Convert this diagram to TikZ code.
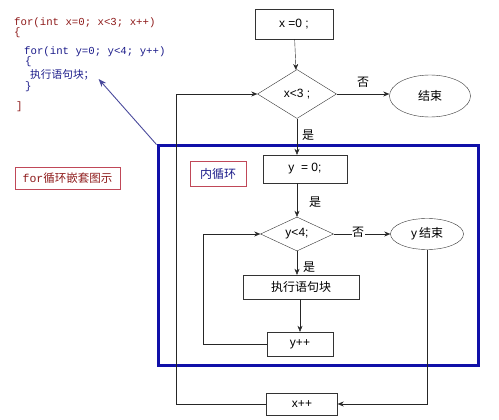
\documentclass[tikz,border=0pt]{standalone}
\usepackage{fontspec}
\setmainfont{Liberation Sans}
\setmonofont{Liberation Mono}
\newfontfamily\cjk{Noto Sans CJK SC}
\usetikzlibrary{arrows.meta,shapes.geometric}
\definecolor{codered}{HTML}{8E1B1B}
\definecolor{codeblue}{HTML}{1C1C8A}
\definecolor{framecol}{HTML}{1010A8}
\definecolor{tagred}{HTML}{C04858}
\definecolor{pointercol}{HTML}{4A4A9C}

\begin{document}
\begin{tikzpicture}[x=1pt,y=-1pt,
  every node/.style={font=\fontsize{12}{14}\selectfont},
  box/.style={draw=black!80,thin,minimum width=#1,inner sep=0pt},
  decision/.style={diamond,draw=black!80,thin,inner sep=0pt},
  terminal/.style={ellipse,draw=black!80,thin,inner sep=0pt},
  code/.style={anchor=west,inner sep=0pt,font=\ttfamily\fontsize{10.7}{12}\selectfont},
  flow/.style={black!85,thin,-{Stealth[length=6pt,width=5pt]}},
  link/.style={black!85,thin}]
  \useasboundingbox (0,0) rectangle (499,420);

  \node[code,text=codered] (code1) at (14,23) {for(int x=0; x<3; x++)};
  \node[code,text=codered] (code2) at (14,33) {\{};
  \node[code,text=codeblue] (code3) at (24,52) {for(int y=0; y<4; y++)};
  \node[code,text=codeblue] (code4) at (25,62) {\{};
  \node[code,text=codeblue] (code5) at (30,75) {\cjk 执行语句块；};
  \node[code,text=codeblue] (code6) at (25,87) {\}};
  \node[code,text=codered] (code7) at (16,107) {]};

  \node[draw=tagred,thin,minimum width=105pt,minimum height=22pt,text=codered,
    font=\fontsize{11.5}{13}\selectfont] (caption) at (67.5,178)
    {{\ttfamily for}{\cjk 循环嵌套图示}};

  \node[draw=framecol,line width=3pt,minimum width=320pt,minimum height=219pt,inner sep=0pt] (frame) at (318,255.5) {};
  \node[draw=tagred,thin,minimum width=56pt,minimum height=25pt,text=codeblue] (inner) at (218,173.5) {\cjk 内循环};

  \node[box=78pt,minimum height=30pt] (xinit) at (294,24) {x =0 ;};
  \node[decision,minimum width=79pt,minimum height=49pt] (xcond) at (297,94) {x<3 ;};
  \node[terminal,minimum width=81pt,minimum height=42pt] (xend) at (430,96) {\cjk 结束};
  \node[box=84pt,minimum height=28pt] (yinit) at (305,169) {y\ \ = 0;};
  \node[decision,minimum width=73pt,minimum height=34pt] (ycond) at (297,234) {y<4;};
  \node[terminal,minimum width=73pt,minimum height=31pt] (yend) at (427,234) {y\,{\cjk 结束}};
  \node[box=116pt,minimum height=24pt] (body) at (301,287) {\cjk 执行语句块};
  \node[box=66pt,minimum height=24pt] (yinc) at (300,344) {y++};
  \node[box=71pt,minimum height=22pt] (xinc) at (302,404) {x++};

  \draw[flow] (xinit) -- (xcond);
  \draw[flow] (xcond.east) -- (xcond.east -| xend.west);
  \draw[flow] (xcond.south) -- (xcond.south |- yinit.north);
  \draw[flow] (yinit.south -| ycond) -- (ycond.north);
  \draw[flow] (ycond.east) -- (yend.west);
  \draw[flow] (ycond.south) -- (ycond.south |- body.north);
  \draw[flow] (body.south -| yinc) -- (yinc.north);
  \draw[flow] (yinc.west) -- ++(-64,0) |- (ycond.west);
  \draw[flow] (yend.south) |- (xinc.east);
  \draw[flow] (xinc.west) -- ++(-90,0) |- (xcond.west);
  \draw[pointercol,line width=0.9pt,-{Stealth[length=8pt,width=6pt]}] (frame.north west) -- ([xshift=4pt,yshift=-4pt]code5.east);

  \node (no1) at (363,82) {\cjk 否};
  \node (yes1) at (308,135) {\cjk 是};
  \node (yes2) at (315,202) {\cjk 是};
  \node[fill=white,inner sep=0.5pt] (no2) at (358,232) {\cjk 否};
  \node (yes3) at (309,267) {\cjk 是};
\end{tikzpicture}
\end{document}
